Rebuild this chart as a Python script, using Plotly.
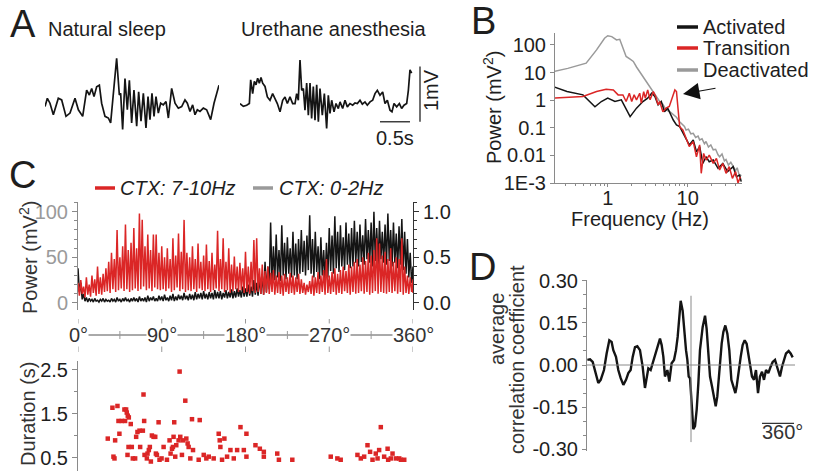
import plotly.graph_objects as go

W, H = 813, 471
def px(x): return x / W
def py(y): return 1 - y / H

FONT = "Liberation Sans, Arial, Helvetica, sans-serif"
RED = "#db2626"
GRAY = "#9a9a9a"
BLACK = "#141414"
AXIS = "#8a8a8a"
TXT = "#1e1e1e"

# ---------------- data ----------------
# A: example LFP traces (time s, voltage mV)
SLEEP_T = [0.000,0.039,0.083,0.139,0.222,0.278,0.350,0.417,0.500,0.556,0.628,0.694,0.739,0.778,0.817,0.861,0.906,0.944,1.000,1.056,1.094,1.139,1.194,1.239,1.261,1.294,1.333,1.372,1.406,1.444,1.483,1.528,1.561,1.600,1.639,1.683,1.717,1.750,1.783,1.817,1.850,1.889,1.928,1.972,2.017,2.056,2.111,2.167,2.222,2.278,2.333,2.372,2.417,2.461,2.500,2.539,2.583,2.639,2.694,2.761,2.817,2.900]
SLEEP_MV = [-0.06,0.09,0.00,-0.21,0.09,0.06,-0.24,-0.18,0.09,-0.12,-0.24,0.24,0.15,0.27,0.12,0.30,0.33,0.00,-0.24,-0.27,-0.36,0.18,0.82,0.15,0.18,-0.48,0.45,-0.12,0.42,-0.36,0.24,-0.42,0.21,-0.33,0.18,-0.45,0.12,-0.30,0.18,-0.24,0.12,-0.18,0.00,-0.03,0.03,-0.27,0.27,0.00,-0.09,-0.06,0.06,0.00,-0.15,-0.03,-0.21,-0.12,-0.15,-0.09,-0.12,-0.30,0.00,0.33]
URE_T = [0.000,0.056,0.111,0.156,0.178,0.211,0.239,0.267,0.294,0.322,0.350,0.378,0.417,0.456,0.500,0.544,0.583,0.622,0.667,0.711,0.750,0.789,0.833,0.878,0.917,0.944,0.972,1.000,1.028,1.056,1.083,1.111,1.139,1.167,1.194,1.222,1.250,1.278,1.306,1.333,1.372,1.406,1.444,1.472,1.500,1.528,1.567,1.600,1.639,1.667,1.711,1.750,1.789,1.833,1.878,1.917,1.956,2.000,2.039,2.083,2.122,2.167,2.211,2.250,2.289,2.333,2.378,2.417,2.456,2.500,2.533,2.567,2.611,2.656,2.694,2.733,2.778,2.806,2.833,2.861]
URE_MV = [0.01,-0.04,-0.02,0.01,0.44,0.19,0.41,0.35,0.47,0.38,0.48,0.38,0.32,0.13,0.07,0.19,0.10,0.01,-0.14,0.07,0.13,0.01,0.13,0.01,0.01,0.19,0.07,0.80,0.25,0.28,-0.11,0.38,-0.20,0.38,-0.26,0.32,-0.29,0.35,-0.32,0.28,-0.20,0.19,-0.44,0.16,-0.17,0.07,-0.14,0.01,-0.08,0.04,-0.08,0.07,-0.05,0.01,-0.02,0.02,0.01,0.07,0.00,0.04,-0.02,0.04,0.07,0.19,0.25,0.16,0.22,0.01,0.07,-0.11,-0.14,0.01,-0.05,0.01,-0.08,-0.02,0.01,0.25,0.62,0.56]

# B: power spectra (log10 frequency in Hz, log10 power in mV^2)
DEACT_LOGF = [-0.69,-0.50,-0.27,-0.14,-0.04,0.00,0.05,0.11,0.15,0.19,0.23,0.28,0.32,0.36,0.40,0.44,0.48,0.52,0.57,0.61,0.65,0.69,0.73,0.77,0.82,0.86,0.90,0.93,0.96,0.98,1.01,1.04,1.07,1.10,1.13,1.15,1.18,1.21,1.23,1.26,1.29,1.32,1.35,1.38,1.40,1.43,1.46,1.48,1.51,1.54,1.57,1.60,1.62,1.65,1.67]
DEACT_LOGP = [1.03,1.15,1.34,1.82,2.24,2.33,2.30,2.18,2.20,1.90,1.58,1.48,1.40,1.20,1.03,0.85,0.67,0.50,0.31,0.12,-0.05,-0.15,-0.36,-0.40,-0.54,-0.62,-0.78,-0.85,-0.95,-1.08,-1.05,-1.22,-1.20,-1.35,-1.30,-1.44,-1.40,-1.58,-1.50,-1.70,-1.62,-1.80,-1.78,-1.98,-2.05,-1.95,-2.20,-2.15,-2.35,-2.25,-2.41,-2.55,-2.45,-2.77,-2.70]
ACT_LOGF = [-0.68,-0.51,-0.31,-0.16,-0.08,0.00,0.09,0.17,0.28,0.36,0.44,0.50,0.55,0.59,0.63,0.67,0.71,0.75,0.82,0.86,0.90,0.94,0.98,1.02,1.07,1.11,1.15,1.19,1.23,1.27,1.32,1.38,1.44,1.50,1.57,1.61,1.65,1.67]
ACT_LOGP = [0.49,0.31,0.19,-0.24,-0.05,0.07,-0.05,0.01,-0.60,-0.29,-0.05,0.07,0.25,0.13,-0.17,-0.05,-0.42,-0.29,-0.72,-0.90,-0.96,-1.20,-1.38,-1.62,-1.44,-1.87,-1.68,-2.29,-2.05,-2.23,-2.17,-2.47,-2.29,-2.59,-2.41,-2.77,-2.71,-2.95]
TRANS_LOGF = [-0.68,-0.31,-0.14,-0.02,0.07,0.13,0.19,0.23,0.27,0.30,0.33,0.36,0.40,0.42,0.45,0.47,0.50,0.53,0.57,0.60,0.63,0.65,0.69,0.73,0.77,0.81,0.84,0.86,0.88,0.90,0.94,0.98,1.02,1.07,1.11,1.15,1.17,1.20,1.23,1.27,1.32,1.36,1.40,1.44,1.48,1.52,1.56,1.60,1.63,1.66]
TRANS_LOGP = [0.07,0.13,0.31,0.39,0.37,0.19,0.19,-0.05,0.25,-0.05,0.19,0.01,0.25,-0.11,0.31,0.07,0.37,0.01,0.31,0.13,-0.17,-0.05,-0.42,-0.29,-0.23,0.13,0.37,0.31,-0.48,-0.96,-1.08,-1.38,-1.68,-1.50,-2.05,-1.62,-2.65,-1.93,-2.17,-1.99,-2.29,-2.11,-2.53,-2.29,-2.65,-2.41,-2.83,-2.59,-3.00,-2.77]

# C: band power vs. phase of the slow cycle (3 degree bins, local max / local min)
C_DEG = list(range(0, 361, 3))
FAST_PEAK = [22,25,18,28,20,30,26,40,28,32,
             38,45,55,48,80,50,62,86,58,66,
             82,60,98,91,62,75,58,75,75,55,
             62,50,60,48,71,52,76,56,91,55,
             50,62,48,65,45,52,64,46,55,42,
             79,48,71,45,60,42,51,40,44,38,
             56,40,45,69,71,38,42,35,40,33,
             36,30,34,30,32,28,33,30,28,32,
             26,22,20,24,30,28,34,30,36,48,
             30,34,38,32,36,40,35,42,40,45,
             48,42,50,46,55,52,58,71,65,52,
             56,48,60,45,50,48,71,40,30,28,
             26]
FAST_TROUGH = [8,10,6,9,7,11,8,10,9,12,
               13,11,15,12,14,16,13,15,12,14,
               16,13,15,18,14,16,13,17,15,14,
               15,13,16,12,14,17,13,15,12,14,
               13,15,12,16,14,13,15,12,14,16,
               13,15,12,14,11,13,15,12,14,11,
               12,10,13,11,12,10,9,11,10,12,
               9,11,10,8,12,10,11,9,12,10,
               11,9,12,10,8,11,10,12,9,11,
               10,12,9,11,10,13,11,9,12,10,
               11,13,10,12,9,11,13,10,12,11,
               10,12,11,13,10,12,9,11,10,12,
               11]
SLOW_PEAK = [0.38,0.22,0.10,0.06,0.05,0.04,0.05,0.03,0.04,0.05,
             0.04,0.03,0.05,0.04,0.06,0.04,0.05,0.06,0.04,0.05,
             0.06,0.05,0.07,0.05,0.06,0.08,0.06,0.07,0.05,0.08,
             0.07,0.09,0.06,0.08,0.10,0.07,0.09,0.08,0.11,0.08,
             0.10,0.09,0.12,0.10,0.11,0.13,0.10,0.12,0.11,0.14,
             0.12,0.13,0.11,0.14,0.12,0.15,0.13,0.16,0.14,0.18,
             0.16,0.20,0.18,0.25,0.22,0.28,0.30,0.45,0.40,0.88,
             0.62,0.75,0.58,0.85,0.66,0.72,0.60,0.78,0.65,0.70,
             0.80,0.68,0.74,0.96,0.70,0.78,0.62,0.72,0.58,0.66,
             0.82,0.74,0.95,0.78,0.85,0.72,0.88,0.76,0.82,0.90,
             0.78,0.86,0.74,0.92,0.80,0.88,1.00,0.82,0.90,0.78,
             0.86,0.98,0.80,0.88,0.76,0.84,0.92,0.78,0.70,0.55,
             0.40]
SLOW_TROUGH = [0.12,0.04,0.02,0.01,0.02,0.01,0.02,0.01,0.02,0.01,
               0.02,0.01,0.02,0.01,0.02,0.01,0.02,0.02,0.01,0.02,
               0.02,0.01,0.02,0.02,0.01,0.02,0.03,0.02,0.02,0.03,
               0.02,0.03,0.02,0.03,0.02,0.03,0.04,0.03,0.04,0.03,
               0.04,0.03,0.04,0.05,0.04,0.05,0.04,0.05,0.04,0.05,
               0.05,0.04,0.06,0.05,0.06,0.05,0.06,0.07,0.06,0.07,
               0.07,0.08,0.07,0.09,0.08,0.10,0.09,0.12,0.15,0.22,
               0.25,0.28,0.24,0.30,0.26,0.32,0.28,0.30,0.26,0.32,
               0.34,0.30,0.36,0.32,0.28,0.34,0.26,0.30,0.24,0.28,
               0.35,0.32,0.38,0.34,0.40,0.36,0.42,0.38,0.40,0.44,
               0.40,0.45,0.42,0.48,0.44,0.40,0.46,0.42,0.48,0.44,
               0.42,0.46,0.40,0.44,0.38,0.42,0.36,0.32,0.28,0.22,
               0.15]
C_TICK_DEG = [0, 90, 180, 270, 360]
C_MINOR_DEG = [45, 135, 225, 315]

# C lower: spindle durations vs phase
DUR_PHASE = [32.0,37.0,39.9,38.1,42.4,43.5,44.5,39.2,47.0,49.9,51.7,52.4,53.5,54.6,50.6,56.7,57.8,54.3,53.2,58.9,
             61.4,62.5,63.9,66.1,66.8,69.7,70.4,71.1,71.5,74.0,74.7,76.1,77.2,78.3,79.4,81.2,83.0,83.7,84.8,86.6,
             87.6,89.8,92.0,95.6,98.4,99.5,101.0,102.0,102.7,103.4,104.5,105.6,108.1,109.2,109.9,111.7,112.8,115.3,116.4,117.8,
             118.9,120.7,122.5,123.6,129.7,130.8,135.1,137.9,140.5,145.8,151.2,152.3,153.0,154.8,157.3,160.2,163.8,167.4,171.0,174.6,
             178.2,181.0,181.0,190.7,195.4,199.7,199.7,214.1,215.9,230.3,271.6,278.7,282.3,300.3,303.9,307.5,311.1,313.9,316.5,320.0,
             321.9,323.6,325.4,329.0,332.7,333.3,336.2,338.0,341.6,345.2,347.0,350.6]
DUR_S = [0.94,1.64,0.90,0.53,1.68,1.34,1.05,0.49,1.34,1.60,1.60,1.53,1.46,1.42,1.34,1.27,0.75,0.75,0.57,0.49,
         0.49,0.98,1.09,1.12,0.75,1.12,1.94,1.34,0.57,0.49,0.60,0.68,0.75,0.42,1.01,0.98,0.98,0.60,0.57,1.31,
         0.46,0.49,0.75,0.46,0.90,0.60,0.71,0.75,0.98,1.31,0.53,0.79,0.90,2.46,0.98,0.57,0.90,1.80,0.94,0.83,
         0.75,0.49,1.38,0.68,0.46,1.36,0.57,0.49,0.53,0.49,1.05,0.90,0.75,0.46,0.94,0.53,0.68,0.49,0.68,1.20,
         0.68,0.53,1.05,0.79,0.71,0.64,0.53,0.60,0.46,0.46,0.53,0.49,0.46,0.57,0.49,0.53,0.79,0.64,0.46,0.60,
         0.49,0.68,1.20,0.53,0.71,0.46,0.49,0.60,0.49,0.49,0.46,0.46]

# D: average cross-correlation (lag in degrees)
D_LAG = [-1166,-1136,-1106,-1080,-1043,-1016,-979,-949,-919,-893,-874,-844,-818,-791,-761,-731,-705,-679,-656,-630,
         -604,-574,-544,-518,-499,-480,-454,-431,-405,-379,-349,-330,-311,-293,-266,-244,-218,-191,-169,-150,
         -131,-116,-94,-79,-56,-41,-26,-11,4,26,45,64,83,101,131,158,176,195,214,236,
         259,278,296,319,345,364,386,409,431,454,476,499,514,536,559,581,604,626,645,664,
         686,709,731,754,776,799,821,844,870,896,919,945,971,1001,1024,1046,1069,1099,1121,1144]
D_CORR = [0.018,0.020,0.011,-0.018,-0.064,-0.053,-0.018,0.041,0.088,0.082,0.053,0.029,-0.018,-0.047,-0.071,-0.053,-0.029,-0.018,0.029,0.064,
          0.067,0.053,-0.006,-0.082,-0.041,-0.012,-0.018,0.006,0.041,0.064,0.094,0.071,0.029,-0.041,-0.018,-0.059,0.006,0.018,0.053,0.100,
          0.194,0.229,0.194,0.124,0.053,0.018,-0.041,-0.047,-0.135,-0.229,-0.218,-0.159,-0.064,0.053,0.135,0.176,0.129,0.053,-0.041,-0.076,
          -0.112,-0.147,-0.112,-0.018,0.076,0.118,0.141,0.112,0.053,-0.053,-0.076,-0.100,-0.076,-0.018,0.029,0.071,0.088,0.076,0.041,-0.006,
          -0.041,-0.053,-0.018,-0.100,-0.041,-0.024,-0.053,-0.018,-0.029,-0.006,0.011,0.018,-0.012,-0.041,-0.006,0.018,0.041,0.050,0.041,0.027]
D_TICKS = [0.30, 0.15, 0.00, -0.15, -0.30]

# ---------------- figure ----------------
fig = go.Figure()

def line_trace(x, y, xa, ya, color, width):
    fig.add_trace(go.Scatter(x=x, y=y, xaxis=xa, yaxis=ya, mode="lines",
                             line=dict(color=color, width=width),
                             showlegend=False, hoverinfo="skip"))

# A
line_trace(SLEEP_T, SLEEP_MV, "x", "y", BLACK, 1.7)
line_trace(URE_T, URE_MV, "x2", "y2", BLACK, 1.7)

# B
for lf, lp, col in [(DEACT_LOGF, DEACT_LOGP, GRAY), (ACT_LOGF, ACT_LOGP, BLACK), (TRANS_LOGF, TRANS_LOGP, RED)]:
    n = min(len(lf), len(lp))
    line_trace([10 ** v for v in lf[:n]], [10 ** v for v in lp[:n]], "x3", "y3", col, 1.5)

# C upper: zig-zag between local maxima and minima of each bin
def zigzag(peaks, troughs):
    xs, ys = [], []
    for d, hi, lo in zip(C_DEG, peaks, troughs):
        xs += [d, min(d + 1.5, 360)]
        ys += [hi, lo]
    return xs, ys

sx, sy = zigzag(SLOW_PEAK, SLOW_TROUGH)
line_trace(sx, sy, "x4", "y4", BLACK, 1.5)
fx, fy = zigzag(FAST_PEAK, FAST_TROUGH)
line_trace(fx, fy, "x4", "y5", RED, 1.5)

# C lower scatter
fig.add_trace(go.Scatter(x=DUR_PHASE, y=DUR_S, xaxis="x6", yaxis="y6", mode="markers",
                         marker=dict(symbol="square", size=4.5, color=RED, line=dict(width=0)),
                         showlegend=False, hoverinfo="skip"))

# D
line_trace(D_LAG, D_CORR, "x7", "y7", BLACK, 2.4)

hidden = dict(visible=False, showgrid=False, zeroline=False, automargin=False)
tickfont = dict(family=FONT, size=20, color=TXT)
base_ax = dict(showline=True, linewidth=1, showgrid=False, zeroline=False, automargin=False)

layout = dict(
    template="none",
    width=W, height=H, margin=dict(l=0, r=0, t=0, b=0, pad=0, autoexpand=False),
    paper_bgcolor="white", plot_bgcolor="rgba(0,0,0,0)",
    font=dict(family=FONT, size=20, color=TXT),
    showlegend=False,
    xaxis=dict(hidden, domain=[px(45), px(219)], range=[0, 2.9], anchor="y"),
    yaxis=dict(hidden, domain=[py(135), py(55)], range=[-0.58, 0.88], anchor="x"),
    xaxis2=dict(hidden, domain=[px(240), px(432)], range=[0, 3.2], anchor="y2"),
    yaxis2=dict(hidden, domain=[py(135), py(55)], range=[-0.56, 0.89], anchor="x2"),
    xaxis3=dict(base_ax, type="log", domain=[px(555), px(742)], range=[-0.66, 1.68], anchor="y3",
                linecolor=AXIS, ticks="outside", ticklen=3, tickcolor=AXIS,
                tickvals=[1, 10], ticktext=["1", "10"], tickfont=tickfont, ticklabelstandoff=-6,
                minor=dict(tickmode="array", tickvals=[0.3,0.4,0.5,0.6,0.7,0.8,0.9,2,3,4,5,6,7,8,9,20,30,40],
                           ticks="outside", ticklen=2, tickcolor=AXIS, showgrid=False)),
    yaxis3=dict(base_ax, type="log", domain=[py(183), py(33)], range=[-3, 2.43], anchor="x3",
                linecolor=AXIS, ticks="outside", ticklen=4, tickcolor=AXIS,
                tickvals=[100, 10, 1, 0.1, 0.01, 0.001], ticktext=["100", "10", "1", "0.1", "0.01", "1E-3"],
                tickfont=tickfont),
    xaxis4=dict(hidden, domain=[px(78), px(413)], range=[0, 360], anchor="y4"),
    yaxis4=dict(base_ax, domain=[py(310), py(202)], range=[-0.077, 1.106], anchor="x4", side="right",
                linecolor="#333", ticks="outside", ticklen=5, tickcolor="#333", tickvals=[0, 0.5, 1.0],
                ticktext=["0.0", "0.5", "1.0"], tickfont=tickfont,
                minor=dict(tickmode="linear", tick0=0, dtick=0.1, ticks="outside", ticklen=3,
                           tickcolor="#333", showgrid=False)),
    yaxis5=dict(base_ax, overlaying="y4", range=[-7.7, 110.6], anchor="x4", side="left",
                linecolor=AXIS, ticks="outside", ticklen=5, tickcolor=AXIS, tickvals=[0, 50, 100],
                tickfont=dict(family=FONT, size=20, color="#9a9a9a"),
                minor=dict(tickmode="linear", tick0=0, dtick=10, ticks="outside", ticklen=3,
                           tickcolor=AXIS, showgrid=False)),
    xaxis6=dict(hidden, domain=[px(78), px(413)], range=[0, 360], anchor="y6"),
    yaxis6=dict(base_ax, domain=[0, py(361)], range=[0.205, 2.70], anchor="x6",
                linecolor=AXIS, ticks="outside", ticklen=5, tickcolor=AXIS, tickvals=[0.5, 1.5, 2.5],
                ticktext=["0.5", "1.5", "2.5"], tickfont=tickfont,
                minor=dict(tickmode="linear", tick0=0.5, dtick=0.5, ticks="outside", ticklen=3,
                           tickcolor=AXIS, showgrid=False)),
    xaxis7=dict(hidden, domain=[px(587), px(795)], range=[-1170, 1170], anchor="y7"),
    yaxis7=dict(base_ax, domain=[py(450.5), py(279.5)], range=[-0.305, 0.305], anchor="x7",
                linecolor=AXIS, ticks="outside", ticklen=4, tickcolor=AXIS, tickvals=D_TICKS,
                ticktext=[f"{v:.2f}" for v in D_TICKS], tickfont=tickfont,
                minor=dict(tickmode="linear", tick0=0, dtick=0.05, ticks="outside", ticklen=3,
                           tickcolor=AXIS, showgrid=False)),
)
fig.update_layout(**layout)

shapes = []
def seg(x0, y0, x1, y1, xref="paper", yref="paper", color="#333", width=1.2):
    shapes.append(dict(type="line", x0=x0, y0=y0, x1=x1, y1=y1, xref=xref, yref=yref,
                       line=dict(color=color, width=width), layer="above"))

# A scale bars (1 mV, 0.5 s)
seg(3.0, -0.32, 3.0, 0.68, "x2", "y2", "#333", 1.4)
seg(2.333, -0.32, 2.833, -0.32, "x2", "y2", "#333", 1.4)
# B legend keys
for yy, col in [(27, BLACK), (48, RED), (70, GRAY)]:
    seg(px(677), py(yy), px(698), py(yy), color=col, width=3.5)
# C legend keys
seg(px(95), py(188), px(115), py(188), color=RED, width=3.5)
seg(px(253), py(188), px(273), py(188), color=GRAY, width=3.5)
# C phase ruler
seg(0, py(335), 360, py(335), "x4", "paper", "#555", 1)
for d in C_TICK_DEG:
    seg(d, py(319), d, py(352), "x4", "paper", "#999", 1)
for d in C_MINOR_DEG:
    seg(d, py(331), d, py(339), "x4", "paper", "#999", 1)
# D reference lines and 360 deg scale bar
seg(-1170, 0, 1170, 0, "x7", "y7", "#8a8a8a", 1)
seg(0, 0.247, 0, -0.275, "x7", "y7", "#8a8a8a", 1)
seg(799, -0.208, 1159, -0.208, "x7", "y7", "#333", 1.2)
fig.update_layout(shapes=shapes)

anns = []
def ann(text, x, y, size=20, xanchor="center", yanchor="middle", color=TXT, angle=0,
        xref="paper", yref="paper", **kw):
    anns.append(dict(text=text, x=x, y=y, xref=xref, yref=yref, xanchor=xanchor, yanchor=yanchor,
                     showarrow=False, textangle=angle, font=dict(family=FONT, size=size, color=color), **kw))

# panel letters
ann("A", px(8), py(24), 38, "left")
ann("B", px(469), py(21), 38, "left")
ann("C", px(7), py(175), 38, "left")
ann("D", px(467), py(267), 38, "left")
# A
ann("Natural sleep", px(46), py(29), 20, "left")
ann("Urethane anesthesia", px(239), py(29), 20, "left")
ann("0.5s", px(395), py(138), 20)
ann("1mV", px(431), py(90), 20, angle=-90)
# B
for yy, t in [(27, "Activated"), (48, "Transition"), (70, "Deactivated")]:
    ann(t, px(701), py(yy), 20, "left")
ann("Power (mV<sup>2</sup>)", px(493), py(108), 20, angle=-90)
ann("Frequency (Hz)", px(640), py(219), 20)
anns.append(dict(text="", x=px(683), y=py(94), xref="paper", yref="paper", showarrow=True,
                 ax=34, ay=-6, arrowhead=2, arrowsize=3, arrowwidth=1.1, arrowcolor="#111"))
# C
ann("<i>CTX: 7-10Hz</i>", px(118), py(188), 20, "left")
ann("<i>CTX: 0-2Hz</i>", px(277), py(188), 20, "left")
ann("Power (mV<sup>2</sup>)", px(28), py(258), 20, angle=-90, color="#333")
ann("Duration (s)", px(28), py(414), 20, angle=-90, color="#333")
for d in C_TICK_DEG:
    ann(f"{d}°", d, py(335), 20, xref="x4", color="#333", bgcolor="white", borderpad=0)
# D
ann("average", px(497), py(329), 20, angle=-90, color="#333")
ann("correlation coefficient", px(517), py(360), 20, angle=-90, color="#333")
ann("360°", 1024, -0.24, 20, xref="x7", yref="y7", color="#333")
fig.update_layout(annotations=anns)

fig.write_html("out.html")
